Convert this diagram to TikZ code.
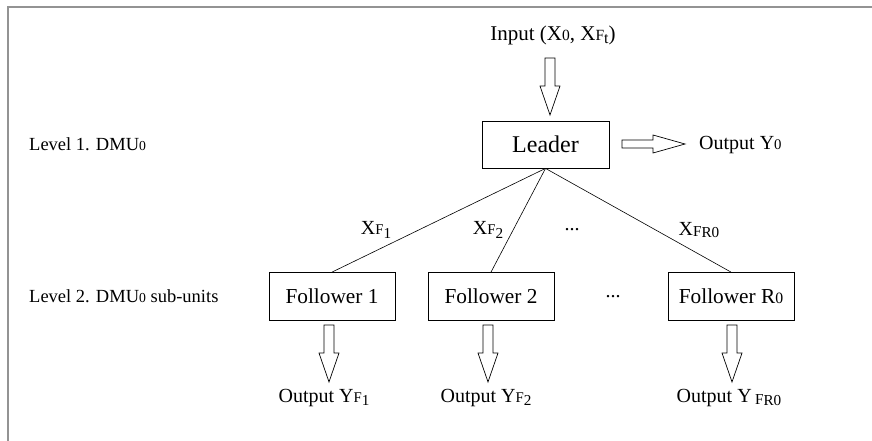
\documentclass[tikz,border=0pt]{standalone}
\usepackage{fontspec}
\setmainfont{Liberation Serif}
\usepackage{graphicx}
% small inline index (kept on the baseline) and a lowered one
\newcommand\smq[1]{\scalebox{0.74}{#1}}
\newcommand\dnq[2][0.35ex]{\raisebox{-#1}{\scalebox{0.76}{#2}}}
\tikzset{
  box/.style={draw, line width=0.8pt, minimum width=126pt, minimum height=48pt,
              inner sep=0pt, font=\fontsize{21.3}{25}\selectfont},
  txt/.style={inner sep=0pt, font=\fontsize{20}{24}\selectfont},
  lvl/.style={inner sep=0pt, anchor=west, font=\fontsize{18.5}{22}\selectfont},
  link/.style={line width=0.6pt},
  hollow/.style={draw, fill=white, line width=0.7pt, line join=miter},
  pics/downarr/.style={code={
    \path[hollow] (-5,0) -- (5,0) -- (5,28) -- (10,28) -- (0,57) -- (-10,28) -- (-5,28) -- cycle;}},
  pics/rightarr/.style={code={
    \path[hollow] (0,-4) -- (31,-4) -- (31,-9) -- (63,0) -- (31,9) -- (31,4) -- (0,4) -- cycle;}}
}
\begin{document}
\begin{tikzpicture}[x=1pt,y=-1pt]
\useasboundingbox (0,0) rectangle (872,441);
\fill[white] (0,0) rectangle (872,441);
% frame edges
\draw[gray!85, line width=2pt] (8,441) -- (8,7) -- (872,7);

% level captions
\node[lvl] (lv1) at (29,144) {Level 1. DMU\smq{0}};
\node[lvl] (lv2) at (29,296) {Level 2. DMU\smq{0} sub-units};

% leader and its input/output
\node[txt, font=\fontsize{21}{25}\selectfont] (input) at (553,35) {Input (X\smq{0}, X\smq{F}\dnq{t})};
\node[box, minimum width=127pt, minimum height=47pt, font=\fontsize{24}{28}\selectfont] (leader) at (545.5,144.5) {Leader};
\pic at (550,58) {downarr};
\pic at (622,144) {rightarr};
\node[txt, anchor=west] (out0) at (699,145) {Output Y\smq{0}};

% followers
\node[box] (f1) at (332,296.5) {Follower 1};
\node[box] (f2) at (491,296.5) {Follower 2};
\node[box] (fr) at (731,296.5) {Follower R\smq{0}};
\node[txt] (dots2) at (613,297) {...};

% links from the leader
\draw[link] (leader.south) -- (f1.north);
\draw[link] (leader.south) -- (f2.north);
\draw[link] (leader.south) -- (fr.north);
\node[txt] (x1) at (376,230) {X\smq{F}\dnq{1}};
\node[txt] (x2) at (488,230) {X\smq{F}\dnq{2}};
\node[txt] (dots1) at (572,230) {...};
\node[txt] (xr) at (699,230) {X\dnq[0.2ex]{F}\dnq[0.3ex]{R0}};

% follower outputs
\pic at (329,325) {downarr};
\pic at (488,325) {downarr};
\pic at (732,325) {downarr};
\node[txt] (o1) at (324,398) {Output Y\smq{F}\dnq{1}};
\node[txt] (o2) at (486,398) {Output Y\smq{F}\dnq{2}};
\node[txt] (or) at (729,398) {Output Y\,\dnq[0.2ex]{F}\dnq[0.3ex]{R0}};
\end{tikzpicture}
\end{document}
